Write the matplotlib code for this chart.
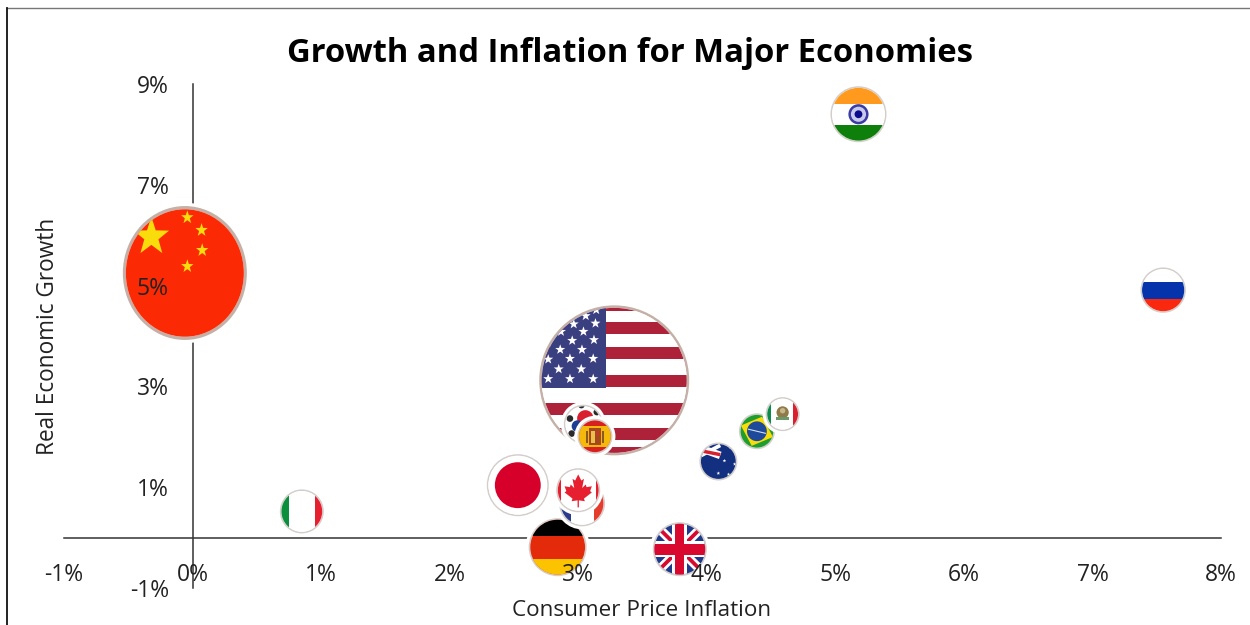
# Growth vs inflation bubble chart, with each bubble painted as a national flag
import matplotlib
matplotlib.use('Agg')
import matplotlib.pyplot as plt
from matplotlib.lines import Line2D
from matplotlib.patches import Circle, Polygon, Rectangle
from matplotlib.path import Path
from matplotlib.transforms import Affine2D

plt.rcParams['font.family'] = ['Open Sans', 'DejaVu Sans']

# Data
countries = ['China', 'USA', 'Korea', 'Spain', 'Japan', 'Italy', 'Germany', 'France',
             'Canada', 'UK', 'Australia', 'Brazil', 'Mexico', 'India', 'Russia']
inflation = [-0.06, 3.28, 3.04, 3.13, 2.53, 0.85, 2.84, 3.03, 3.00, 3.79, 4.09, 4.39, 4.59, 5.18, 7.55]
growth = [5.25, 3.12, 2.25, 2.01, 1.04, 0.52, -0.19, 0.68, 0.94, -0.23, 1.51, 2.11, 2.45, 8.40, 4.91]
bubble_radius = [62, 75, 19.5, 17.5, 31, 22, 29, 23, 22, 27, 19, 18, 17, 28, 22.7]

x_ticks = [-1, 0, 1, 2, 3, 4, 5, 6, 7, 8]
y_ticks = [-1, 1, 3, 5, 7, 9]

W, H = 1250, 625
fig = plt.figure(figsize=(W / 100, H / 100), dpi=100)
ax = fig.add_axes([64 / W, (H - 588) / H, (1221 - 64) / W, (588 - 84) / H])
ax.set_xlim(-1, 8)
ax.set_ylim(-1, 9)
ax.patch.set_visible(False)

# Axes cross at zero
for side in ['top', 'right']:
    ax.spines[side].set_visible(False)
for side in ['left', 'bottom']:
    ax.spines[side].set_position('zero')
    ax.spines[side].set_color('#333333')
    ax.spines[side].set_linewidth(1.1)
    ax.spines[side].set_zorder(1)

ax.set_xticks(x_ticks)
ax.set_yticks(y_ticks)
ax.set_xticklabels([f'{v}%' for v in x_ticks])
ax.set_yticklabels([f'{v}%' for v in y_ticks])
ax.tick_params(axis='x', length=0, pad=18, labelsize=16.5, labelcolor='#222222')
ax.tick_params(axis='y', length=0, pad=17, labelsize=16.5, labelcolor='#222222')
ax.xaxis.set_zorder(200)
ax.yaxis.set_zorder(200)


class Flag:
    # paints shapes in unit-circle coordinates, clipped to the bubble
    def __init__(self, x, y, r, z, ring='#d4cecb', ring_width=1.6, stretch=1.0):
        cx, cy = ax.transData.transform((x, y))
        self.tf = Affine2D().scale(r, r * stretch).translate(cx, cy)
        self.z = z
        ax.add_patch(Circle((0, 0), 1 + 3 / r, fc='white', ec='none', transform=self.tf, zorder=z, clip_on=False))
        ax.add_patch(Circle((0, 0), 1, fc=ring, ec='none', transform=self.tf, zorder=z + 0.01, clip_on=False))
        self.clip = Circle((0, 0), 1 - ring_width / r, fc='white', ec='none', transform=self.tf, zorder=z + 0.02,
                           clip_on=False)
        ax.add_patch(self.clip)

    def add(self, p):
        p.set_transform(self.tf)
        p.set_zorder(self.z + 0.03)
        ax.add_patch(p)
        p.set_clip_path(self.clip)
        return p

    def rect(self, x0, y0, x1, y1, color):
        self.add(Rectangle((x0, y0), x1 - x0, y1 - y0, fc=color, ec='none'))

    def poly(self, pts, color):
        self.add(Polygon(pts, closed=True, fc=color, ec='none'))

    def disc(self, x, y, r, color):
        self.add(Circle((x, y), r, fc=color, ec='none'))

    def star(self, x, y, s, color):
        verts = Path.unit_regular_star(5, 0.4).vertices * s + (x, y)
        self.poly(verts[:-1], color)

    def bar(self, x0, y0, x1, y1, w, color):
        # straight band between two points, used for the crosses
        dx, dy = x1 - x0, y1 - y0
        n = (dx * dx + dy * dy) ** 0.5
        ox, oy = -dy / n * w, dx / n * w
        self.poly([(x0 + ox, y0 + oy), (x1 + ox, y1 + oy), (x1 - ox, y1 - oy), (x0 - ox, y0 - oy)], color)


def paint_china(f):
    f.rect(-1, -1, 1, 1, '#fb2a05')
    f.star(-0.54, 0.54, 0.3, '#f8dc0c')
    for sx, sy in [(0.04, 0.83), (0.27, 0.64), (0.28, 0.34), (0.04, 0.10)]:
        f.star(sx, sy, 0.105, '#f8dc0c')


def paint_usa(f):
    f.rect(-1, -1, 1, 1, '#ffffff')
    for cy in [1.0, 0.70, 0.36, -0.01, -0.38, -0.72, -0.97]:
        f.rect(-1, cy - 0.08, 1, cy + 0.08, '#ad2238')
    f.rect(-1, -0.1, -0.105, 1, '#3a3f7f')
    stars = [(-0.24, 0.94), (-0.38, 0.86), (-0.54, 0.75), (-0.25, 0.76), (-0.71, 0.65), (-0.41, 0.65),
             (-0.56, 0.53), (-0.27, 0.54), (-0.72, 0.41), (-0.43, 0.41), (-0.88, 0.28), (-0.59, 0.29),
             (-0.28, 0.29), (-0.74, 0.15), (-0.44, 0.15), (-0.88, 0.02), (-0.59, 0.02), (-0.28, 0.02)]
    for sx, sy in stars:
        f.star(sx, sy, 0.07, '#ffffff')


def paint_korea(f):
    f.rect(-1, -1, 1, 1, '#ffffff')
    f.disc(0.1, 0.3, 0.42, '#d8202f')
    f.disc(-0.3, -0.1, 0.3, '#1c3f94')
    for sx, sy in [(-0.69, 0.29), (0.69, 0.62), (-0.6, -0.48), (-0.1, 0.98)]:
        f.disc(sx, sy, 0.17, '#2a2a2a')


def paint_spain(f):
    f.rect(-1, -1, 1, 1, '#d8201f')
    f.rect(-1, -0.6, 1, 0.6, '#f5b90c')
    # coat of arms
    f.rect(-0.34, -0.5, 0.34, 0.5, '#a5481c')
    f.rect(-0.22, -0.36, 0.0, 0.3, '#e8c04a')
    f.rect(0.05, 0.0, 0.24, 0.3, '#c0392b')
    f.rect(-0.5, -0.36, -0.4, 0.3, '#8a5a24')
    f.rect(0.4, -0.36, 0.5, 0.3, '#8a5a24')


def paint_japan(f):
    f.rect(-1, -1, 1, 1, '#ffffff')
    f.disc(0, 0, 0.74, '#d7002a')


def paint_italy(f):
    f.rect(-1, -1, 1, 1, '#ffffff')
    f.rect(-1, -1, -0.58, 1, '#0b8f3c')
    f.rect(0.58, -1, 1, 1, '#e6202e')


def paint_germany(f):
    f.rect(-1, -1, 1, 1, '#e32b0c')
    f.rect(-1, 0.4, 1, 1, '#000000')
    f.rect(-1, -1, 1, -0.4, '#fcc400')


def paint_france(f):
    f.rect(-1, -1, 1, 1, '#ffffff')
    f.rect(-1, -1, -0.5, 1, '#2b3a8c')
    f.rect(0.5, -1, 1, 1, '#e53b2d')


def paint_canada(f):
    f.rect(-1, -1, 1, 1, '#ffffff')
    f.rect(-1, -1, -0.8, 1, '#e6202e')
    f.rect(0.8, -1, 1, 1, '#e6202e')
    leaf = [(0, 0.72), (-0.14, 0.44), (-0.26, 0.52), (-0.18, 0.1), (-0.34, 0.26), (-0.38, 0.14),
            (-0.62, 0.18), (-0.54, -0.04), (-0.62, -0.1), (-0.26, -0.38), (-0.3, -0.5), (-0.03, -0.46),
            (-0.03, -0.78), (0.03, -0.78), (0.03, -0.46), (0.3, -0.5), (0.26, -0.38), (0.62, -0.1),
            (0.54, -0.04), (0.62, 0.18), (0.38, 0.14), (0.34, 0.26), (0.18, 0.1), (0.26, 0.52), (0.14, 0.44)]
    f.poly(leaf, '#e6202e')


def paint_uk(f):
    f.rect(-1, -1, 1, 1, '#1f3a8a')
    for sgn in [1, -1]:
        f.bar(-1, -sgn, 1, sgn, 0.17, '#ffffff')
        f.bar(-1, -sgn, 1, sgn, 0.07, '#d8082f')
    f.rect(-1, -0.3, 1, 0.3, '#ffffff')
    f.rect(-0.28, -1, 0.28, 1, '#ffffff')
    f.rect(-1, -0.2, 1, 0.2, '#d8082f')
    f.rect(-0.16, -1, 0.16, 1, '#d8082f')


def paint_australia(f):
    f.rect(-1, -1, 1, 1, '#12307f')
    f.bar(-1, 0.72, 0.1, 0.32, 0.2, '#ffffff')
    f.bar(-0.9, 0.32, 0.1, 0.85, 0.1, '#ffffff')
    f.bar(-0.9, 0.56, 0.1, 0.36, 0.09, '#d8202f')
    for sx, sy in [(0.32, 0.04), (0.86, -0.14), (0.54, -0.68), (0.62, 0.75), (0.0, -0.62)]:
        f.star(sx, sy, 0.1, '#ffffff')


def paint_brazil(f):
    f.rect(-1, -1, 1, 1, '#1f9e2f')
    f.poly([(-0.89, 0.32), (0.29, 0.81), (0.89, -0.32), (-0.29, -0.81)], '#f9dc0a')
    f.disc(0, 0, 0.55, '#1f4a9c')
    f.bar(-0.5, 0.12, 0.5, -0.12, 0.03, '#d8e4f0')


def paint_mexico(f):
    f.rect(-1, -1, 1, 1, '#ffffff')
    f.rect(-1, -1, -0.66, 1, '#0b8a4a')
    f.rect(0.62, -1, 1, 1, '#d8202f')
    f.disc(0, 0.1, 0.36, '#8f7a4a')
    f.disc(0, 0.2, 0.16, '#c8b68a')
    f.bar(-0.38, -0.25, 0.38, -0.25, 0.09, '#6a9a6a')


def paint_india(f):
    f.rect(-1, -1, 1, 1, '#ffffff')
    f.rect(-1, 0.36, 1, 1, '#ff9a1f')
    f.rect(-1, -1, 1, -0.38, '#0e7f0a')
    f.disc(0, 0, 0.36, '#3a3ba4')
    f.disc(0, 0, 0.27, '#c9c9ea')
    f.disc(0, 0, 0.14, '#0a0a8c')


def paint_russia(f):
    f.rect(-1, -1, 1, 1, '#ffffff')
    f.rect(-1, -0.38, 1, 0.37, '#0433ab')
    f.rect(-1, -1, 1, -0.38, '#f9280f')


painters = {'China': paint_china, 'USA': paint_usa, 'Korea': paint_korea, 'Spain': paint_spain,
            'Japan': paint_japan, 'Italy': paint_italy, 'Germany': paint_germany, 'France': paint_france,
            'Canada': paint_canada, 'UK': paint_uk, 'Australia': paint_australia, 'Brazil': paint_brazil,
            'Mexico': paint_mexico, 'India': paint_india, 'Russia': paint_russia}

# Later bubbles sit on top of earlier ones
for i, name in enumerate(countries):
    if name == 'China':
        flag = Flag(inflation[i], growth[i], bubble_radius[i], 2 + i, '#c4b0a6', 3, 1.08)
    elif name == 'USA':
        flag = Flag(inflation[i], growth[i], bubble_radius[i], 2 + i, '#c4b0a6', 2.5)
    else:
        flag = Flag(inflation[i], growth[i], bubble_radius[i], 2 + i)
    painters[name](flag)

# Title and axis labels
fig.text(630 / W, 1 - 53 / H, 'Growth and Inflation for Major Economies', ha='center', va='center',
         fontsize=23.6, fontweight='bold', color='#000000')
fig.text(642 / W, 1 - 611 / H, 'Consumer Price Inflation', ha='center', va='center', fontsize=16.2, color='#222222')
fig.text(48 / W, 1 - 336 / H, 'Real Economic Growth', ha='center', va='center', rotation=90, fontsize=16.3,
         color='#222222')

# Outer frame, top and left edges only
fig.add_artist(Line2D([7 / W, 1], [1 - 8 / H, 1 - 8 / H], color='#777777', lw=1, transform=fig.transFigure))
fig.add_artist(Line2D([7 / W, 7 / W], [0, 1 - 8 / H], color='#111111', lw=1.3, transform=fig.transFigure))

fig.savefig('out.png', dpi=100)
